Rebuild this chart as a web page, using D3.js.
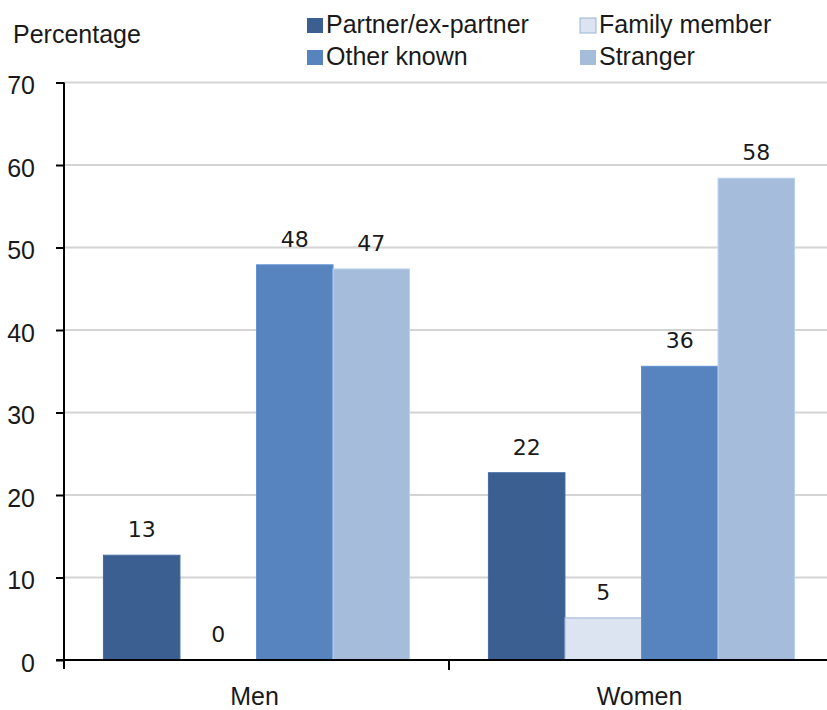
<!DOCTYPE html>
<html>
<head>
<meta charset="utf-8">
<script src="https://cdn.jsdelivr.net/npm/d3@7"></script>
<style>
  body { margin: 0; background: #fff; }
  svg text { font-family: "Liberation Sans", Arial, sans-serif; fill: #1a1a1a; }
  .val { font-family: "DejaVu Sans", Verdana, sans-serif !important; }
</style>
</head>
<body>
<script>
var width = 827,
    height = 710;

// data
var groups = ["Men", "Women"];
var series = ["Partner/ex-partner", "Family member", "Other known", "Stranger"];
var menValues = [12.7, 0, 47.9, 47.4];
var womenValues = [22.7, 5.1, 35.6, 58.4];
var menLabels = ["13", "0", "48", "47"];
var womenLabels = ["22", "5", "36", "58"];
var yTicks = [0, 10, 20, 30, 40, 50, 60, 70];
var colors = ["#3c5f91", "#dbe4f0", "#5783be", "#a6bcdb"];

var rows = [
  {group: "Men", values: menValues, labels: menLabels},
  {group: "Women", values: womenValues, labels: womenLabels}
];

var svg = d3.select('body').append('svg')
    .attr('width', width)
    .attr('height', height);

var y = d3.scaleLinear()
    .domain([0, 70])
    .range([660, 82.5]);

var x0 = d3.scaleBand()
    .domain(groups)
    .range([64, 834])
    .padding(0);

var x1 = d3.scaleBand()
    .domain(series)
    .range([0, x0.bandwidth()])
    .paddingInner(0)
    .paddingOuter(0.515);

var color = d3.scaleOrdinal().domain(series).range(colors);

/* gridlines */
svg.append('g')
    .selectAll('line')
    .data(yTicks.filter(function(d) { return d > 0; }))
    .enter().append('line')
    .attr('x1', 64).attr('x2', width)
    .attr('y1', function(d) { return y(d); })
    .attr('y2', function(d) { return y(d); })
    .style('stroke', '#d4d4d4')
    .style('stroke-width', 2);

/* bars */
var g = svg.selectAll('.grp')
    .data(rows)
    .enter().append('g')
    .attr('class', 'grp')
    .attr('transform', function(d) { return 'translate(' + x0(d.group) + ',0)'; });

function cells(d) {
  return series.map(function(s, i) { return {key: s, value: d.values[i], label: d.labels[i]}; });
}

g.selectAll('rect')
    .data(cells)
    .enter().append('rect')
    .attr('x', function(d) { return x1(d.key); })
    .attr('width', x1.bandwidth())
    .attr('y', function(d) { return y(d.value); })
    .attr('height', function(d) { return y(0) - y(d.value); })
    .style('fill', function(d) { return color(d.key); })
    .style('stroke', function(d) { return d.key === "Family member" ? "#9bb2d4" : d3.color(color(d.key)).brighter(0.3); })
    .style('stroke-width', 1);

g.selectAll('.val')
    .data(cells)
    .enter().append('text')
    .attr('class', 'val')
    .attr('x', function(d) { return x1(d.key) + x1.bandwidth() / 2; })
    .attr('y', function(d) { return y(d.value) - 18; })
    .attr('text-anchor', 'middle')
    .style('font-size', '22px')
    .text(function(d) { return d.label; });

/* y axis */
var yAxis = d3.axisLeft(y).tickValues(yTicks).tickSize(8).tickPadding(20);
var ya = svg.append('g')
    .attr('transform', 'translate(64,0)')
    .call(yAxis);
ya.select('.domain').remove();
ya.selectAll('.tick line').style('stroke', '#000').style('stroke-width', 2);
ya.selectAll('.tick text')
    .attr('x', -29)
    .attr('dy', '0.45em')
    .style('font-size', '25px')
    .style('font-family', '"Liberation Sans", Arial, sans-serif')
    .style('fill', '#1a1a1a');

svg.append('line')
    .attr('x1', 64).attr('x2', 64)
    .attr('y1', y(70)).attr('y2', 669)
    .style('stroke', '#000').style('stroke-width', 2);

/* x axis */
svg.append('line')
    .attr('x1', 56).attr('x2', width)
    .attr('y1', y(0)).attr('y2', y(0))
    .style('stroke', '#000').style('stroke-width', 2);

svg.append('g')
    .selectAll('line')
    .data(groups.slice(1))
    .enter().append('line')
    .attr('x1', function(d) { return x0(d); })
    .attr('x2', function(d) { return x0(d); })
    .attr('y1', y(0)).attr('y2', 670)
    .style('stroke', '#000').style('stroke-width', 2);

svg.append('g')
    .selectAll('text')
    .data(groups)
    .enter().append('text')
    .attr('x', function(d) { return x0(d) + x0.bandwidth() / 2 - 2; })
    .attr('y', 705)
    .attr('text-anchor', 'middle')
    .style('font-size', '25px')
    .text(function(d) { return d; });

/* y title */
svg.append('text')
    .attr('x', 13)
    .attr('y', 43)
    .style('font-size', '25px')
    .text('Percentage');

/* legend, two columns */
var legend = svg.append('g')
    .selectAll('g')
    .data(series)
    .enter().append('g')
    .attr('transform', function(d, i) {
      var col = i % 2, row = Math.floor(i / 2);
      return 'translate(' + (col === 0 ? 307 : 580) + ',' + (row * 32) + ')';
    });

legend.append('rect')
    .attr('x', 0).attr('y', 18)
    .attr('width', 16).attr('height', 15)
    .style('fill', function(d) { return color(d); })
    .style('stroke', function(d) { return d === "Family member" ? "#9bb2d4" : "none"; });

legend.append('text')
    .attr('x', 19)
    .attr('y', 33)
    .style('font-size', '25px')
    .text(function(d) { return d; });
</script>
</body>
</html>
